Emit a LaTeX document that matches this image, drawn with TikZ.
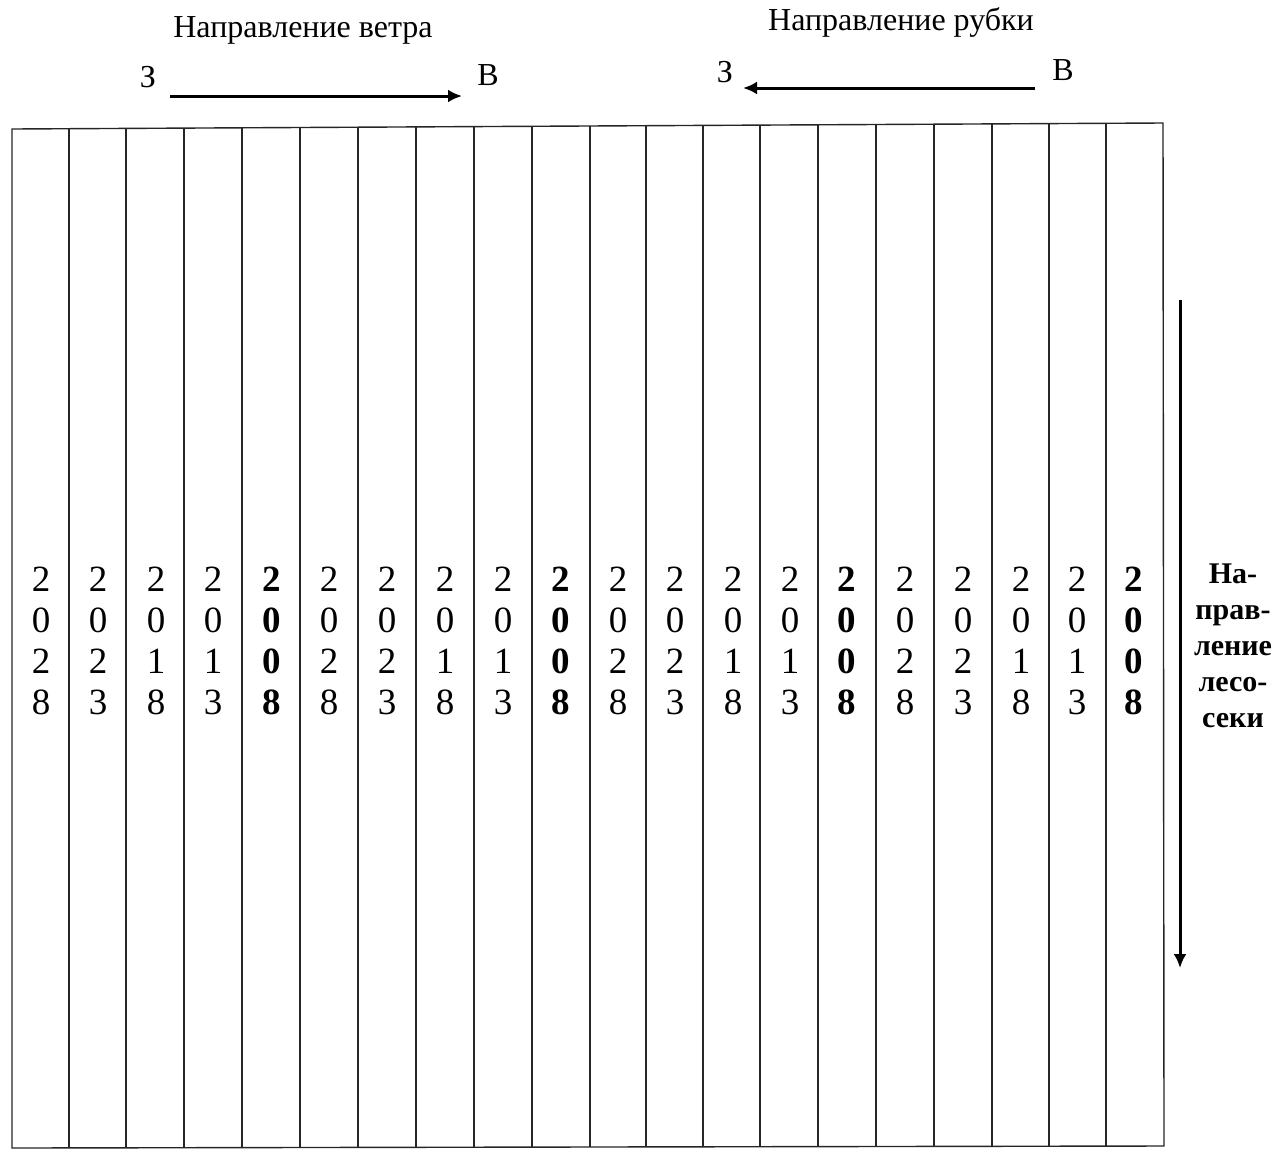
\documentclass[tikz,border=0pt]{standalone}
\usepackage{fontspec}
\setmainfont{Liberation Serif}
\newfontfamily\tnr{Liberation Serif}
\usetikzlibrary{arrows.meta}
\begin{document}
\begin{tikzpicture}[x=1pt,y=-1pt,
  title/.style={font=\tnr\fontsize{32}{34}\selectfont, inner sep=0pt},
  letter/.style={font=\tnr\fontsize{32}{34}\selectfont, inner sep=0pt},
  gridline/.style={line width=1.4pt, draw=black!85},
  dirarrow/.style={line width=3pt, -{Latex[length=14pt,width=13pt]}},
  year/.style={font=\tnr\fontsize{37}{41}\selectfont, align=center, inner sep=0pt},
  yearbold/.style={year, font=\tnr\fontsize{37}{41}\selectfont\bfseries},
  sidelabel/.style={font=\tnr\fontsize{30}{36}\selectfont\bfseries, align=center, inner sep=0pt}]
\useasboundingbox (0,0) rectangle (1279,1149);
\fill[white] (0,0) rectangle (1279,1149);

% top labels
\node[title] (tw) at (303,30) {Направление ветра};
\node[letter] (z1) at (148,77) {З};
\node[letter] (v1) at (488,75) {В};
\coordinate (wa) at (170,96);
\coordinate (wb) at (462,96);
\draw[dirarrow] (wa) -- (wb);

\node[title] (tr) at (901,22) {Направление рубки};
\node[letter] (z2) at (725,72) {З};
\node[letter] (v2) at (1063,70) {В};
\coordinate (ra) at (1035,88);
\coordinate (rb) at (743,88);
\draw[dirarrow] (ra) -- (rb);

% outer frame and strips
\draw[gridline] (12,129) -- (1163,123) -- (1164,1146) -- (12,1148) -- cycle;
\foreach \x in {69,126,184,242,300,358,416,474,532,590,646,703,760,818,876,934,992,1049,1106}{
  \pgfmathsetmacro\yt{129-6*(\x-12)/1151}
  \pgfmathsetmacro\yb{1148-2*(\x-12)/1152}
  \draw[gridline] (\x,\yt) -- (\x,\yb);
}

% years
\node[year] (c1) at (41,641) {2\\0\\2\\8};
\node[year] (c2) at (98,641) {2\\0\\2\\3};
\node[year] (c3) at (156,641) {2\\0\\1\\8};
\node[year] (c4) at (213,641) {2\\0\\1\\3};
\node[yearbold] (c5) at (272,641) {2\\0\\0\\8};
\node[year] (c6) at (329,641) {2\\0\\2\\8};
\node[year] (c7) at (387,641) {2\\0\\2\\3};
\node[year] (c8) at (445,641) {2\\0\\1\\8};
\node[year] (c9) at (503,641) {2\\0\\1\\3};
\node[yearbold] (c10) at (561,641) {2\\0\\0\\8};
\node[year] (c11) at (618,641) {2\\0\\2\\8};
\node[year] (c12) at (675,641) {2\\0\\2\\3};
\node[year] (c13) at (733,641) {2\\0\\1\\8};
\node[year] (c14) at (790,641) {2\\0\\1\\3};
\node[yearbold] (c15) at (847,641) {2\\0\\0\\8};
\node[year] (c16) at (905,641) {2\\0\\2\\8};
\node[year] (c17) at (963,641) {2\\0\\2\\3};
\node[year] (c18) at (1021,641) {2\\0\\1\\8};
\node[year] (c19) at (1077,641) {2\\0\\1\\3};
\node[yearbold] (c20) at (1134,641) {2\\0\\0\\8};

% side direction
\coordinate (sa) at (1180,300);
\coordinate (sb) at (1180,968);
\draw[dirarrow] (sa) -- (sb);
\node[sidelabel] (sl) at (1233,646) {На-\\прав-\\ление\\лесо-\\секи};
\end{tikzpicture}
\end{document}
